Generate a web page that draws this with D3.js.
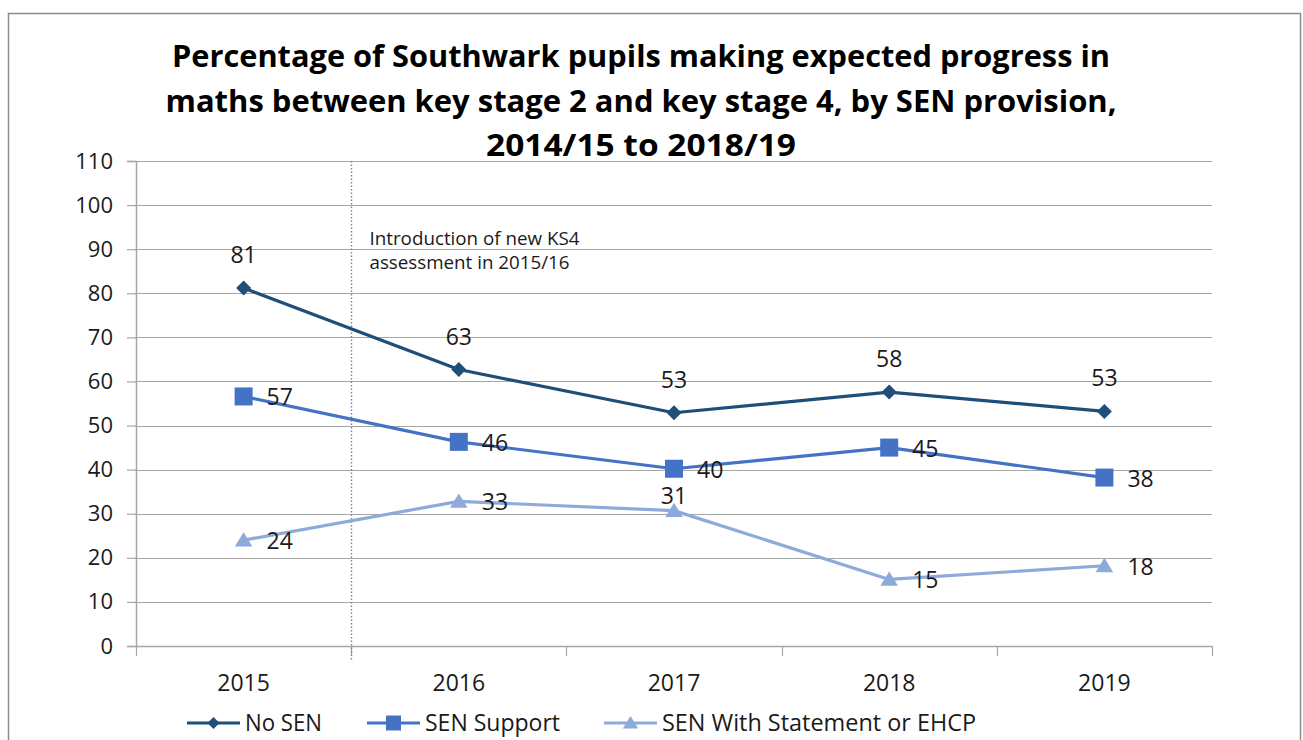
<!DOCTYPE html>
<html>
<head>
<meta charset="utf-8">
<script src="https://cdn.jsdelivr.net/npm/d3@7"></script>
<style>
  body { margin: 0; background: #fff; }
  text { font-family: "Open Sans", sans-serif; fill: #1a1a1a; }
</style>
</head>
<body>
<div class="chart"></div>
<script>
// data
const years = ["2015", "2016", "2017", "2018", "2019"];
const noSen = [81.2, 62.7, 52.9, 57.6, 53.2];
const senSupport = [56.6, 46.3, 40.2, 45.0, 38.2];
const senStatement = [24.0, 32.8, 30.7, 15.1, 18.2];
const yTicks = [0, 10, 20, 30, 40, 50, 60, 70, 80, 90, 100, 110];
const titleLines = [
  "Percentage of Southwark pupils making expected progress in",
  "maths between key stage 2 and key stage 4, by SEN provision,",
  "2014/15 to 2018/19"
];
const noteLines = ["Introduction of new KS4", "assessment in 2015/16"];
const seriesNames = ["No SEN", "SEN Support", "SEN With Statement or EHCP"];

function main(){
    const W = 1303, H = 740;
    const margin = {top: 161, right: 91, bottom: 94, left: 136};
    const width = W - margin.left - margin.right;
    const height = H - margin.top - margin.bottom;

    const root = d3.select(".chart").append("svg")
        .attr("width", W)
        .attr("height", H);

    // outer frame (bottom edge off screen)
    root.append("path")
        .attr("d", "M8.5," + H + " V13.5 H1300.5 V" + H)
        .attr("fill", "none")
        .attr("stroke", "#8c8c8c")
        .attr("stroke-width", 1.5);

    // title
    const titleW = [938, 951, 310];
    root.selectAll(".title")
        .data(titleLines)
        .enter()
        .append("text")
        .attr("class", "title")
        .attr("x", 641)
        .attr("y", (d, i) => 67 + i * 44.5)
        .attr("text-anchor", "middle")
        .attr("font-size", 31)
        .attr("font-weight", "bold")
        .attr("textLength", (d, i) => titleW[i])
        .attr("lengthAdjust", "spacingAndGlyphs")
        .style("fill", "#000")
        .text(d => d);

    const svg = root.append("g")
        .attr("transform", `translate(${margin.left},${margin.top})`);

    const xScale = d3.scaleBand().domain(years).range([0, width]);
    const yScale = d3.scaleLinear().domain([0, 110]).range([height, 0]);
    const xc = d => xScale(d) + xScale.bandwidth() / 2;

    // gridlines
    svg.append("g")
        .selectAll("line")
        .data(yTicks.slice(1))
        .enter()
        .append("line")
        .attr("x1", 0).attr("x2", width)
        .attr("y1", d => Math.round(yScale(d)) + 0.5)
        .attr("y2", d => Math.round(yScale(d)) + 0.5)
        .attr("stroke", "#a6a6a6")
        .attr("stroke-width", 1.2);

    // y axis
    const yAxis = d3.axisLeft(yScale).tickValues(yTicks).tickSize(9).tickPadding(14);
    const gy = svg.append("g").attr("class", "axis y-axis").call(yAxis);
    gy.select(".domain").attr("stroke", "#a6a6a6").attr("stroke-width", 1.5);
    gy.selectAll(".tick line").attr("stroke", "#a6a6a6").attr("stroke-width", 1.2);
    gy.selectAll(".tick text")
        .attr("font-size", 22)
        .attr("font-family", "Open Sans, sans-serif")
        .attr("fill", "#1a1a1a");

    // x axis, ticks on the band edges
    svg.append("line")
        .attr("x1", 0).attr("x2", width)
        .attr("y1", height + 0.5).attr("y2", height + 0.5)
        .attr("stroke", "#a6a6a6").attr("stroke-width", 1.5);
    const edges = years.map(d => xScale(d)).concat([width]);
    svg.append("g")
        .selectAll("line")
        .data(edges)
        .enter()
        .append("line")
        .attr("x1", d => Math.round(d) + 0.5)
        .attr("x2", d => Math.round(d) + 0.5)
        .attr("y1", height)
        .attr("y2", height + 10)
        .attr("stroke", "#a6a6a6")
        .attr("stroke-width", 1.2);
    svg.append("g")
        .selectAll("text")
        .data(years)
        .enter()
        .append("text")
        .attr("x", d => xc(d))
        .attr("y", height + 45)
        .attr("text-anchor", "middle")
        .attr("font-size", 23)
        .text(d => d);

    // dotted line marking the new KS4 assessment
    const cut = Math.round(xScale("2016")) + 0.5;
    svg.append("line")
        .attr("x1", cut).attr("x2", cut)
        .attr("y1", 0).attr("y2", height + 14)
        .attr("stroke", "#4f8be0")
        .attr("stroke-width", 1.4)
        .attr("stroke-dasharray", "1.5,2");
    const noteW = [210, 200];
    svg.append("g")
        .selectAll("text")
        .data(noteLines)
        .enter()
        .append("text")
        .attr("x", cut + 18)
        .attr("y", (d, i) => 84 + i * 24)
        .attr("font-size", 19)
        .attr("textLength", (d, i) => noteW[i])
        .attr("lengthAdjust", "spacingAndGlyphs")
        .text(d => d);

    const colors = ["#1f4e79", "#4472c4", "#8eaadb"];
    const allSeries = [noSen, senSupport, senStatement];

    const diamond = s => `M0,${-s}L${s},0L0,${s}L${-s},0Z`;
    const square = s => `M${-s},${-s}H${s}V${s}H${-s}Z`;
    const triangle = s => `M0,${-s}L${s * 1.1},${s * 0.8}L${-s * 1.1},${s * 0.8}Z`;
    const markers = [diamond(7.5), square(9), triangle(8)];
    const legendMarkers = [diamond(6), square(7.5), triangle(7)];

    const line = d3.line()
        .x((d, i) => xc(years[i]))
        .y(d => yScale(d));

    allSeries.forEach((vals, k) => {
        svg.append("path")
            .datum(vals)
            .attr("fill", "none")
            .attr("stroke", colors[k])
            .attr("stroke-width", 3.2)
            .attr("stroke-linejoin", "round")
            .attr("d", line);

        svg.append("g")
            .selectAll("path")
            .data(vals)
            .enter()
            .append("path")
            .attr("transform", (d, i) => `translate(${xc(years[i])},${yScale(d)})`)
            .attr("d", markers[k])
            .attr("fill", colors[k]);
    });

    // data labels
    const fmt = d3.format(".0f");
    svg.append("g")
        .selectAll("text")
        .data(noSen)
        .enter()
        .append("text")
        .attr("x", (d, i) => xc(years[i]))
        .attr("y", d => yScale(d) - 25)
        .attr("text-anchor", "middle")
        .attr("font-size", 23)
        .text(d => fmt(d));

    [senSupport, senStatement].forEach((vals, k) => {
        svg.append("g")
            .selectAll("text")
            .data(vals)
            .enter()
            .append("text")
            .attr("x", (d, i) => {
                // 2017 statement label sits above its point
                if (k == 1 && i == 2) return xc(years[i]);
                return xc(years[i]) + 23;
            })
            .attr("y", (d, i) => {
                if (k == 1 && i == 2) return yScale(d) - 7;
                return yScale(d) + 9;
            })
            .attr("text-anchor", (d, i) => (k == 1 && i == 2) ? "middle" : "start")
            .attr("font-size", 23)
            .text(d => fmt(d));
    });

    // legend
    const legX = [187, 367, 604];
    const legTextW = [77, 135, 314];
    const leg = root.append("g")
        .selectAll("g")
        .data(seriesNames)
        .enter()
        .append("g")
        .attr("transform", (d, i) => `translate(${legX[i]},723)`);
    leg.append("line")
        .attr("x1", 0).attr("x2", 53)
        .attr("y1", 0).attr("y2", 0)
        .attr("stroke", (d, i) => colors[i])
        .attr("stroke-width", 3.2);
    leg.append("path")
        .attr("transform", "translate(26.5,0)")
        .attr("d", (d, i) => legendMarkers[i])
        .attr("fill", (d, i) => colors[i]);
    leg.append("text")
        .attr("x", 58)
        .attr("y", 8)
        .attr("font-size", 23)
        .attr("textLength", (d, i) => legTextW[i])
        .attr("lengthAdjust", "spacingAndGlyphs")
        .text(d => d);
}

main();
</script>
</body>
</html>
